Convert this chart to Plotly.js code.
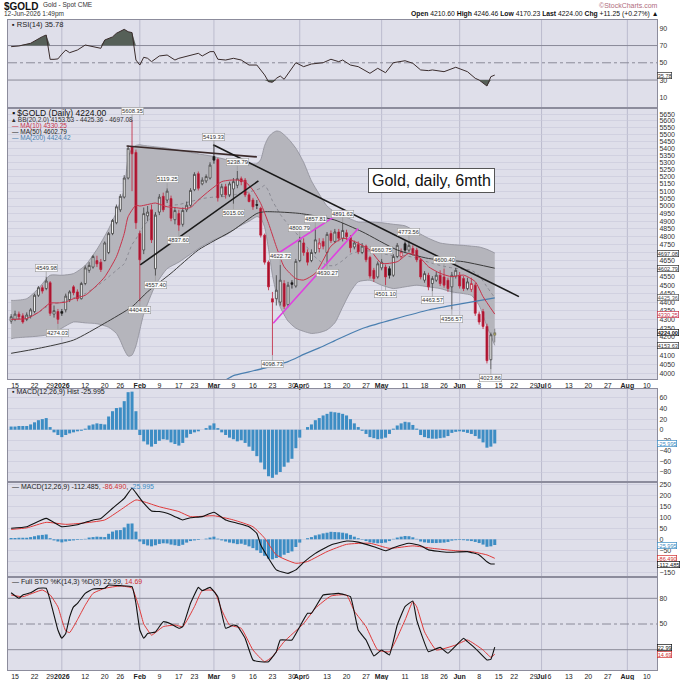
<!DOCTYPE html>
<html><head><meta charset="utf-8">
<script src="https://cdn.plot.ly/plotly-3.0.1.min.js"></script>
<style>html,body{margin:0;padding:0;background:#fff}#chart{width:680px;height:680px}</style>
</head><body><div id="chart"></div>
<script>
// ---------------- DATA ----------------
const holidays = ['2025-12-25','2026-01-01','2026-01-19','2026-02-16','2026-04-03','2026-05-25','2026-06-19','2026-07-03'];
const firstBarDate = '2025-12-12';
const lastCalendarDate = '2026-08-31';
const originDate = '2025-12-15';

const barOpen = [
4290,4300,4330,4320,4300,4320,4345,4440,4485,4480,
4515,4330,4345,4345,4355,4415,4490,4460,4420,4510,
4590,4610,4650,4640,4650,4700,4820,4890,4975,5060,
5190,5410,5370,4820,4716,4935,4975,4600,4960,5065,
5040,5050,4910,4950,4880,4975,5005,5110,5220,5150,
5170,5190,5340,5320,5075,5130,5075,5115,5140,5185,
5175,5075,5040,5010,4985,4810,4640,4420,4420,4400,
4510,4385,4515,4495,4650,4760,4700,4650,4700,4725,
4770,4700,4820,4770,4830,4790,4825,4795,4735,4750,
4700,4740,4670,4590,4550,4605,4610,4600,4560,4675,
4675,4755,4715,4725,4715,4655,4530,4560,4510,4530,
4560,4550,4530,4490,4555,4560,4540,4480,4475,4500,
4330,4345,4260,4075,4210.60];
const barHigh = [
4330,4350,4345,4335,4340,4365,4450,4495,4500,4549.98,
4525,4380,4360,4360,4450,4470,4500,4475,4520,4620,
4640,4685,4680,4660,4770,4830,4915,5010,5080,5210,
5420,5608.35,5390,4840,4990,5000,5010,4960,5080,5090,
5119.25,5070,4990,4975,4990,5030,5120,5230,5235,5195,
5215,5300,5419.33,5330,5150,5150,5165,5190,5238.79,5200,
5190,5090,5055,5040,4995,4820,4650,4460,4560,4622.72,
4530,4520,4530,4660,4800.79,4790,4720,4720,4857.81,4790,
4790,4830,4840,4850,4850,4891.62,4845,4810,4775,4770,
4760,4750,4680,4605,4645,4660.75,4625,4615,4690,4760,
4725,4770,4773.56,4745,4730,4665,4585,4575,4555,4580,
4590,4600.40,4545,4580,4605,4580,4555,4545,4545,4515,
4345,4360,4275,4225,4246.46];
const barLow = [
4275,4290,4300,4275,4290,4305,4335,4430,4450,4470,
4320,4310,4274.03,4320,4340,4400,4440,4405,4415,4500,
4575,4600,4610,4580,4645,4690,4810,4880,4960,5050,
5180,5100,4850,4404.61,4690,4900,4760,4557.40,4940,4960,
5020,4900,4880,4837.60,4865,4960,4995,5100,5105,5140,
5155,5180,5290,5030,5060,5050,5060,5015.00,5120,5140,
5060,5025,4975,4980,4795,4625,4470,4098.73,4380,4380,
4360,4370,4480,4485,4640,4680,4620,4640,4690,4700,
4720,4630.27,4760,4760,4770,4770,4780,4700,4720,4690,
4690,4640,4540,4520,4540,4590,4501.10,4540,4550,4665,
4660,4700,4700,4680,4640,4535,4515,4470,4463.57,4520,
4495,4485,4460,4356.57,4540,4480,4465,4470,4460,4320,
4270,4245,4055,4023.86,4170.23];
const barClose = [
4315,4330,4315,4285,4325,4355,4440,4485,4465,4525,
4335,4350,4300,4335,4435,4460,4455,4420,4510,4605,
4620,4675,4630,4595,4760,4820,4905,4995,5065,5190,
5400,5360,4890,4655,4950,4960,4780,4940,5060,4975,
5100,4920,4970,4875,4970,5005,5105,5215,5120,5175,
5200,5280,5315,5055,5130,5075,5150,5165,5185,5165,
5075,5030,4995,5005,4810,4640,4490,4400,4470,4530,
4375,4500,4505,4645,4775,4700,4640,4700,4780,4760,
4740,4815,4775,4830,4790,4840,4800,4730,4760,4705,
4740,4655,4555,4540,4630,4640,4550,4560,4675,4745,
4705,4715,4745,4695,4655,4550,4570,4490,4540,4560,
4510,4500,4480,4560,4590,4495,4480,4520,4510,4335,
4285,4260,4070,4212.75,4224.00];

// Bollinger bands (20,2) and moving averages (trading-day index, value)
const bbIdx = [-1,0,3,6,9,12,15,18,21,24,26,27,28,29,30,31,32,33,36,39,42,45,48,51,54,57,60,62,63,64,65,66,67,68,70,72,74,76,78,80,82,84,86,88,91,94,97,100,103,106,109,112,115,117,119,121,123];
const bbUpper = [4410,4410,4420,4480,4560,4560,4570,4620,4720,4850,4960,5030,5110,5330,5400,5420,5425,5420,5410,5400,5385,5370,5355,5340,5320,5300,5290,5290,5320,5420,5480,5510,5525,5520,5470,5400,5300,5170,5080,5000,4960,4935,4915,4895,4895,4890,4880,4870,4830,4790,4760,4750,4745,4740,4735,4720,4697.08];
const bbLower = [4190,4195,4200,4205,4215,4250,4285,4280,4275,4255,4220,4180,4130,4095,4100,4150,4240,4330,4500,4600,4640,4690,4740,4780,4810,4860,4900,4930,4920,4860,4720,4560,4450,4370,4290,4250,4232,4220,4225,4240,4280,4370,4460,4520,4530,4500,4480,4490,4500,4490,4480,4460,4450,4440,4380,4260,4153.63];
const bbMiddle = [4300,4302,4310,4340,4385,4400,4425,4450,4495,4550,4590,4610,4630,4690,4750,4785,4830,4870,4950,5000,5010,5030,5050,5060,5065,5080,5095,5110,5120,5140,5100,5035,4990,4945,4880,4825,4765,4695,4650,4620,4620,4650,4690,4705,4710,4695,4680,4680,4665,4640,4620,4605,4597,4590,4557,4490,4425.36];

const ma10Idx = [-1,3,6,9,11,13,15,18,21,23,26,28,29,31,32,34,36,39,41,43,45,47,50,53,55,57,59,61,63,65,67,69,72,74,77,79,81,84,87,91,94,98,101,104,106,109,112,115,118,120,123];
const ma10Val = [4300,4305,4340,4394,4395,4400,4420,4440,4500,4550,4674,4820,4930,5005,5000,5010,5020,4995,4990,4984,4990,5040,5107,5165,5175,5176,5165,5107,5017,4886,4737,4612,4540,4531,4572,4653,4740,4790,4770,4716,4633,4643,4695,4663,4612,4572,4551,4561,4521,4432,4330.25];
const ma50Idx = [-1,6,15,23,30,34,40,47,56,62,64,68,73,78,82,89,98,106,115,123];
const ma50Val = [4110,4137,4183,4278,4373,4461,4572,4716,4843,4951,4962,4960,4951,4930,4908,4832,4716,4663,4643,4602.79];
const ma200Idx = [50,53,56,60,64,70,74,78,82,86,90,97,106,115,123];
const ma200Val = [3930,3955,3990,4010,4030,4065,4104,4140,4180,4220,4255,4300,4354,4392,4424.42];

// RSI(14)
const rsiIdx = [-1,1,4,6,7,8,9,10,11,12,13,14,16,18,20,22,23,25,26,28,29,30,31,32,33,34,35,37,39,41,42,45,47,48,50,51,52,54,56,58,60,62,64,65,66,67,68,69,70,72,74,76,79,81,83,84,86,88,91,93,95,97,100,102,104,106,107,110,113,115,116,118,119,121,122,123];
const rsiVal = [68.7,69.5,72.6,78,80.3,82.2,54,54,54.5,60,64.8,61.7,64.8,70.6,68.7,66.8,76.4,80,84.2,88.8,86,85,53.2,47.4,56.4,55.2,51.3,57.9,59,53.2,55.2,59,61,57.9,62.9,63,54.1,53.2,55.2,53.2,47.4,47.4,35.9,28.1,27.4,32,34.7,30.9,37,50.1,45.5,48.6,50.1,54.1,51.3,53.2,47.4,45.5,37.8,43.6,38.5,50.1,52.4,49.4,41.7,40.9,41.7,39.7,44.8,41.7,39.7,32,30,23.1,33.9,35.78];

// MACD(12,26,9) histogram, one value per bar
const macdHist = [
6,6,7,7,7,10,14,18,20,22,
5,-5,-10,-14,-10,-7,-5,-3,-2,2,
8,10,12,11,10,25,35,41,42,54,
71,72,35,-10,-22,-28,-32,-27,-21,-18,
-19,-24,-27,-30,-25,-15,-8,-5,-3,0,
3,8,12,3,-5,-10,-15,-18,-22,-20,
-25,-32,-40,-50,-62,-75,-88,-91,-85,-80,
-70,-62,-55,-35,-15,0,5,10,18,22,
27,30,34,33,32,30,27,20,12,5,
-2,-8,-14,-16,-18,-17,-15,-8,2,8,
12,15,14,9,2,-10,-14,-16,-17,-17,
-16,-15,-12,-6,-4,-3,-4,-6,-8,-12,
-17,-24,-34,-32,-25.995];
const macdIdx = [-1,3,8,12,16,20,22,25,28,30,31,33,35,37,39,41,43,45,48,51,54,57,60,62,63,65,67,70,72,74,77,81,85,88,92,95,97,101,104,106,111,116,119,121,122,123];
const macdVal = [50,57,95,57,66,88,95,141,186,232,211,164,129,126,118,103,88,98,103,123,88,73,57,27,-26,-86,-139,-155,-139,-105,-64,-26,-8,-13,-34,-52,-38,-18,-29,-48,-59,-56,-71,-102,-112,-112.485];
const sigIdx = [-1,3,8,13,17,23,27,31,33,37,42,45,51,56,61,64,67,72,75,80,85,91,96,102,107,113,117,121,123];
const sigVal = [45,52,77,68,73,88,133,179,171,148,126,103,107,88,57,5,-71,-109,-101,-56,-23,-18,-41,-30,-41,-52,-56,-71,-86.49];

// Full STO %K(14,3) %D(3)
const stoKIdx = [-1,1,2,4,6,8,9,10,11,12,13,14,15,16,18,20,23,24,27,30,31,32,33,34,36,38,40,42,43,45,47,48,50,52,54,56,57,59,61,63,65,67,68,71,73,75,76,79,81,83,86,88,90,92,94,96,98,100,102,103,106,109,111,115,116,118,121,122,123];
const stoKVal = [86.5,80,84,86.5,91.7,91.7,78,60.5,43,33.3,38.9,58,70,74,85.8,90.9,91.7,95.5,94.8,93.6,74.2,43,33.3,38.9,40.7,52.7,50,45,46.9,74.2,92.8,89,92.8,81.9,45,48.8,47.7,33.3,8,6,6,17.7,31.3,31.3,46.9,62.5,62.5,83.8,85,85.8,81.9,43,31.3,12.7,19.7,13.9,48.8,70.3,76.9,54.6,17.7,22.7,15.8,33.3,29.4,21.6,8,8.8,22.99];
const stoDIdx = [-1,2,7,9,11,12,13,14,16,18,20,23,27,30,32,33,34,35,38,41,43,46,48,51,53,55,58,61,64,66,69,74,77,81,85,87,90,93,96,100,102,103,105,108,113,116,120,122,123];
const stoDVal = [83.9,81.9,89.7,84,70,55,42,40,55,72,85.8,91.7,94.4,92,66.3,50,43,37,46.9,48.8,46.9,70.3,89,89,66.3,48.8,45,19.7,6,11.9,29.4,50.6,68.4,82.7,83.8,65,46.9,19.7,17.7,54.6,76.1,70,40.8,19.7,25.5,31.3,19.7,11.2,14.69];

// hand-drawn trend lines (start idx, start price, end idx, end price)
const tlX0 = [28.6, 50.8, 32.1, 66.2, 66.2];
const tlY0 = [5416, 5425, 4623, 4675, 4278];
const tlX1 = [62, 129.2, 62.4, 84.2, 88];
const tlY1 = [5338, 4432, 5170, 4970, 4853];

// price callouts (bar idx, value, +1 above / -1 below)
const lblIdx = [8,11,30,32,36,39,42,51,56,57,66,68,73,77,80,84,94,95,101,107,110,112,122];
const lblVal = [4549.98,4274.03,5608.35,4404.61,4557.40,5119.25,4837.60,5419.33,5015.00,5238.79,4098.73,4622.72,4800.79,4857.81,4630.27,4891.62,4660.75,4501.10,4773.56,4463.57,4600.40,4356.57,4023.86];
const lblSide = [1,-1,1,-1,-1,1,-1,1,-1,1,-1,1,1,1,-1,1,1,-1,1,-1,1,-1,-1];

// axis tick labels
const tickDates = ['2025-12-15','2025-12-22','2025-12-29','2026-01-02','2026-01-12','2026-01-20','2026-01-26','2026-02-02','2026-02-09','2026-02-17','2026-02-23','2026-03-02','2026-03-09','2026-03-16','2026-03-23','2026-03-30','2026-04-01','2026-04-06','2026-04-13','2026-04-20','2026-04-27','2026-05-01','2026-05-11','2026-05-18','2026-05-26','2026-06-01','2026-06-08','2026-06-15','2026-06-22','2026-06-29','2026-07-01','2026-07-06','2026-07-13','2026-07-20','2026-07-27','2026-08-03','2026-08-10'];
const tickText = ['15','22','29','<b>2026</b>','12','20','26','<b>Feb</b>','9','17','23','<b>Mar</b>','9','16','23','30','<b>Apr</b>','6','13','20','27','<b>May</b>','11','18','26','<b>Jun</b>','8','15','22','29','<b>Jul</b>','6','13','20','27','<b>Aug</b>','10'];
const monthDates = ['2026-01-02','2026-02-02','2026-03-02','2026-04-01','2026-05-01','2026-06-01','2026-07-01','2026-08-03'];
const rsiTicks = [10,30,50,70,90];
const histTicks = [-80,-60,-40,-20,0,20,40,60];
const macdTicks = [-150,-100,-50,0,50,100,150,200,250];
const stoTicks = [20,50,80];
const priceTickMin = 4000, priceTickMax = 5650, priceTickStep = 50;

// ---------------- BUILD ----------------
function buildTradingDays(start, end) {
  const out = [];
  const d = new Date(start + 'T00:00:00Z');
  const e = new Date(end + 'T00:00:00Z');
  while (d <= e) {
    const s = d.toISOString().slice(0, 10);
    const wd = d.getUTCDay();
    if (wd !== 0 && wd !== 6 && holidays.indexOf(s) < 0) out.push(s);
    d.setUTCDate(d.getUTCDate() + 1);
  }
  return out;
}
const days = buildTradingDays(firstBarDate, lastCalendarDate);
const dayIndex = s => days.indexOf(s) - days.indexOf(originDate);
const barX = barOpen.map((_, k) => dayIndex(days[k]));
const tickVals = tickDates.map(dayIndex);
const monthVals = monthDates.map(dayIndex);
const priceTicks = [];
for (let v = priceTickMin; v <= priceTickMax; v += priceTickStep) priceTicks.push(v);

const FONT = 'Liberation Sans, Arial, sans-serif';
const ML = 8, MR = 23, MT = 20, MB = 10, W = 680, H = 680;
const PW = W - ML - MR, PH = H - MT - MB;
const px = x => (x - ML) / PW;
const py = y => 1 - (y - MT) / PH;
const XR = [-1.8, 164.6];

const traces = [];
const noHover = {hoverinfo: 'skip', showlegend: false};
function line(x, y, xa, ya, style, extra) {
  return Object.assign({type:'scatter', mode:'lines', x:x, y:y, line:style, xaxis:xa, yaxis:ya}, noHover, extra || {});
}

// RSI
const rsiHi = rsiVal.map(v => Math.max(v, 70));
const rsiLo = rsiVal.map(v => Math.min(v, 30));
traces.push(line(rsiIdx, rsiIdx.map(() => 70), 'x', 'y', {width:0}));
traces.push(line(rsiIdx, rsiHi, 'x', 'y', {width:0}, {fill:'tonexty', fillcolor:'#566058'}));
traces.push(line(rsiIdx, rsiIdx.map(() => 30), 'x', 'y', {width:0}));
traces.push(line(rsiIdx, rsiLo, 'x', 'y', {width:0}, {fill:'tonexty', fillcolor:'#566058'}));
traces.push(line(rsiIdx, rsiVal, 'x', 'y', {color:'#3a2c2c', width:1}));

// Price panel, base layer (y2): Bollinger band
const sm = {shape:'spline', smoothing:0.6};
traces.push(line(bbIdx, bbLower, 'x2', 'y2', Object.assign({color:'#8e8e98', width:0.8}, sm)));
traces.push(line(bbIdx, bbUpper, 'x2', 'y2', Object.assign({color:'#8e8e98', width:0.8}, sm), {fill:'tonexty', fillcolor:'#b5b5bc'}));
traces.push(line(bbIdx, bbMiddle, 'x2', 'y2', Object.assign({color:'#7c7c86', width:0.8, dash:'dot'}, sm)));

// middle layer (y6 overlays y2): candles, coloured by close vs previous close
const nBars = barOpen.length;
const upKeys = [], dnKeys = [];
for (let k = 0; k < nBars - 1; k++) {
  const prev = k > 0 ? barClose[k - 1] : barOpen[k];
  (barClose[k] >= prev ? upKeys : dnKeys).push(k);
}
function candle(keys, incLine, incFill, decLine, decFill) {
  return Object.assign({type:'candlestick', x:keys.map(k => barX[k]), open:keys.map(k => barOpen[k]), high:keys.map(k => barHigh[k]), low:keys.map(k => barLow[k]), close:keys.map(k => barClose[k]),
    increasing:{line:{color:incLine, width:0.8}, fillcolor:incFill}, decreasing:{line:{color:decLine, width:0.8}, fillcolor:decFill}, whiskerwidth:0, xaxis:'x2', yaxis:'y6'}, noHover);
}
traces.push(candle(upKeys, '#3c3c3c', '#ffffff', '#1a1a1a', '#1a1a1a'));
traces.push(candle(dnKeys, '#c0203a', '#ffffff', '#c0203a', '#a3102c'));
traces.push(candle([nBars - 1], '#707070', '#f2e030', '#707070', '#f2e030'));

// top layer (y7 overlays y2): moving averages and trend lines
traces.push(line(ma200Idx, ma200Val, 'x2', 'y7', {color:'#4a7fb0', width:1.2, shape:'spline', smoothing:0.5}));
traces.push(line(ma50Idx, ma50Val, 'x2', 'y7', Object.assign({color:'#3a3a3a', width:1}, sm)));
traces.push(line(ma10Idx, ma10Val, 'x2', 'y7', Object.assign({color:'#c8324a', width:1}, sm)));
const tlColor = ['#3b2a2a', '#1a1a1a', '#1a1a1a', '#e040e0', '#e040e0'];
for (let t = 0; t < tlX0.length; t++) {
  traces.push(line([tlX0[t], tlX1[t]], [tlY0[t], tlY1[t]], 'x2', 'y7', {color:tlColor[t], width:1.6}));
}

// MACD histogram panel
traces.push(Object.assign({type:'bar', x:barX, y:macdHist, width:0.78, marker:{color:'#3d8dc4', line:{width:0}}, xaxis:'x3', yaxis:'y3'}, noHover));
// MACD panel
traces.push(Object.assign({type:'bar', x:barX, y:macdHist, width:0.78, marker:{color:'#3d8dc4', line:{width:0}}, xaxis:'x4', yaxis:'y4'}, noHover));
traces.push(line(sigIdx, sigVal, 'x4', 'y4', {color:'#e03a3a', width:1, shape:'spline', smoothing:0.5}));
traces.push(line(macdIdx, macdVal, 'x4', 'y4', {color:'#111', width:1.1, shape:'spline', smoothing:0.4}));
// STO panel
traces.push(line(stoDIdx, stoDVal, 'x5', 'y5', {color:'#e03a3a', width:1, shape:'spline', smoothing:0.4}));
traces.push(line(stoKIdx, stoKVal, 'x5', 'y5', {color:'#111', width:1.1, shape:'spline', smoothing:0.3}));

// ---------------- LAYOUT ----------------
const axisLine = '#8c8c9c';
function xAxis(anchor, labels) {
  return {anchor:anchor, range:XR, fixedrange:true, showgrid:false, zeroline:false, showline:true, mirror:true, linecolor:axisLine, linewidth:1,
    ticks:'', tickmode:'array', tickvals:tickVals, ticktext:tickText, showticklabels:labels, tickangle:0,
    tickfont:{family:FONT, size:7, color:'#222'}, rangeslider:{visible:false}};
}
function yAxis(anchor, domain, range, ticks, grid, extra) {
  return Object.assign({anchor:anchor, domain:domain, range:range, side:'right', fixedrange:true, zeroline:false, showline:true, mirror:true,
    linecolor:axisLine, linewidth:1, ticks:'', tickmode:'array', tickvals:ticks, showgrid:grid, gridcolor:'#c8c8d8', gridwidth:0.6,
    tickfont:{family:FONT, size:7, color:'#333'}}, extra || {});
}
const priceLog = y => 3.7520 - (y - 114.3) / 1730;
const priceRange = [priceLog(379), priceLog(108)];
function overlayAxis() {
  return {overlaying:'y2', anchor:'x2', type:'log', range:priceRange, fixedrange:true, showgrid:false, zeroline:false, showline:false, showticklabels:false, ticks:''};
}

const layout = {
  width:W, height:H, margin:{l:ML, r:MR, t:MT, b:MB}, paper_bgcolor:'#ffffff', plot_bgcolor:'#dfdfea',
  showlegend:false, font:{family:FONT, color:'#222'}, hovermode:false,
  xaxis: xAxis('y', false), xaxis2: xAxis('y2', true), xaxis3: xAxis('y3', false), xaxis4: xAxis('y4', false), xaxis5: xAxis('y5', true),
  yaxis: yAxis('x', [py(108), py(20)], [-2.4, 99.6], rsiTicks, false),
  yaxis2: yAxis('x2', [py(379), py(108)], priceRange, priceTicks, true, {type:'log', ticktext:priceTicks.map(String)}),
  yaxis3: yAxis('x3', [py(482), py(389)], [-98.9, 77.0], histTicks, true),
  yaxis4: yAxis('x4', [py(577), py(482)], [-171.4, 260.5], macdTicks, true),
  yaxis5: yAxis('x5', [0, py(577)], [-3.7, 104.9], stoTicks, false),
  yaxis6: overlayAxis(),
  yaxis7: overlayAxis(),
  shapes: [], annotations: []
};

// month grid lines in every panel
const panelRefs = [['x','y'],['x2','y2'],['x3','y3'],['x4','y4'],['x5','y5']];
panelRefs.forEach(([xr, yr]) => monthVals.forEach(m => layout.shapes.push({type:'line', layer:'below', xref:xr, yref:yr + ' domain', x0:m, x1:m, y0:0, y1:1, line:{color:'#b3b3c6', width:0.8}})));
// reference levels
[[70,'solid'],[30,'solid'],[50,'dashdot']].forEach(([v, d]) => layout.shapes.push({type:'line', layer:'below', xref:'x domain', yref:'y', x0:0, x1:1, y0:v, y1:v, line:{color:'#8a8a98', width:1, dash:d}}));
[[80,'solid'],[20,'solid'],[50,'dashdot']].forEach(([v, d]) => layout.shapes.push({type:'line', layer:'below', xref:'x5 domain', yref:'y5', x0:0, x1:1, y0:v, y1:v, line:{color:'#8a8a98', width:1, dash:d}}));

const A = layout.annotations;
function txt(x, y, text, size, color, anchor, extra) {
  A.push(Object.assign({xref:'paper', yref:'paper', x:px(x), y:py(y), text:text, showarrow:false, xanchor:anchor || 'left', yanchor:'middle',
    font:{family:FONT, size:size, color:color || '#222'}}, extra || {}));
}
const last = nBars - 1;
const chg = barClose[last] - barClose[last - 1];
// header
txt(2, 6, '<b>$GOLD</b>', 10, '#111');
txt(41, 5.5, 'Gold - Spot CME', 6.5, '#333');
txt(2, 14, '12-Jun-2026 1:49pm', 6.5, '#333');
txt(660, 5, '\u00a9StockCharts.com', 7, '#b06c7c', 'right');
txt(660, 14, '<b>Open</b> ' + barOpen[last].toFixed(2) + ' <b>High</b> ' + barHigh[last].toFixed(2) + ' <b>Low</b> ' + barLow[last].toFixed(2) +
  ' <b>Last</b> ' + barClose[last].toFixed(2) + ' <b>Chg</b> +' + chg.toFixed(2) + ' (+' + (chg / barClose[last - 1] * 100).toFixed(2) + '%) \u25b2', 6.8, '#111', 'right');
// panel legends
txt(10, 25, '\u25aa RSI(14) ' + rsiVal[rsiVal.length - 1].toFixed(2), 7.5, '#222');
txt(10, 113, '\u25aa $GOLD (Daily) ' + barClose[last].toFixed(2), 8.5, '#111');
txt(10, 120, '\u25b4 BB(20,2.0) ' + bbLower[bbLower.length - 1].toFixed(2) + ' - ' + bbMiddle[bbMiddle.length - 1].toFixed(2) + ' - ' + bbUpper[bbUpper.length - 1].toFixed(2), 6.5, '#333');
txt(10, 126, '\u2014 MA(10) ' + ma10Val[ma10Val.length - 1].toFixed(2), 6.5, '#c8324a');
txt(10, 132, '\u2014 MA(50) ' + ma50Val[ma50Val.length - 1].toFixed(2), 6.5, '#222');
txt(10, 138, '\u2014 MA(200) ' + ma200Val[ma200Val.length - 1].toFixed(2), 6.5, '#4a7fb0');
txt(10, 392, '\u25aa MACD(12,26,9) Hist ' + macdHist[last].toFixed(3), 7, '#222');
txt(10, 487, '\u2014 MACD(12,26,9) ' + macdVal[macdVal.length - 1].toFixed(3) + ', <span style="color:#d03030">' + sigVal[sigVal.length - 1].toFixed(3) +
  '</span>, <span style="color:#3d8dc4">' + macdHist[last].toFixed(3) + '</span>', 7, '#222');
txt(10, 582, '\u2014 Full STO %K(14,3) %D(3) ' + stoKVal[stoKVal.length - 1].toFixed(2) + ', <span style="color:#d03030">' + stoDVal[stoDVal.length - 1].toFixed(2) + '</span>', 7, '#222');
// title box
txt(431, 181, 'Gold, daily, 6mth', 16, '#111', 'center', {bgcolor:'#ffffff', bordercolor:'#555', borderwidth:1, borderpad:3});

// price callouts
lblIdx.forEach((i, k) => {
  A.push({xref:'x2', yref:'y2', x:i, y:Math.log10(lblVal[k]), text:lblVal[k].toFixed(2), showarrow:true, arrowhead:0, arrowwidth:0.7, arrowcolor:'#999',
    ax:0, ay:lblSide[k] > 0 ? -9 : 9, standoff:0, font:{family:FONT, size:5.8, color:'#333'}, bgcolor:'rgba(255,255,255,0.9)', bordercolor:'#9a9a9a', borderwidth:0.6, borderpad:0.5});
});

// right-edge value boxes
function box(yref, yv, value, color, bold) {
  A.push({xref:'paper', yref:yref, x:1, y:yv, xanchor:'left', yanchor:'middle', xshift:0, showarrow:false,
    text:bold ? '<b>' + value + '</b>' : value, font:{family:FONT, size:5.6, color:color}, bgcolor:'#ffffff', bordercolor:color, borderwidth:0.7, borderpad:0});
}
box('y', rsiVal[rsiVal.length - 1], rsiVal[rsiVal.length - 1].toFixed(2), '#333');
box('y2', Math.log10(bbUpper[bbUpper.length - 1]), bbUpper[bbUpper.length - 1].toFixed(2), '#333');
box('y2', Math.log10(ma50Val[ma50Val.length - 1]), ma50Val[ma50Val.length - 1].toFixed(2), '#333');
box('y2', Math.log10(bbMiddle[bbMiddle.length - 1]), bbMiddle[bbMiddle.length - 1].toFixed(2), '#555');
box('y2', Math.log10(ma10Val[ma10Val.length - 1]), ma10Val[ma10Val.length - 1].toFixed(2), '#c8324a');
box('y2', Math.log10(barClose[last]), barClose[last].toFixed(2), '#111', true);
box('y2', Math.log10(bbLower[bbLower.length - 1]), bbLower[bbLower.length - 1].toFixed(2), '#333');
box('y3', macdHist[last], macdHist[last].toFixed(3), '#3d8dc4');
box('y4', macdHist[last], macdHist[last].toFixed(3), '#3d8dc4');
box('y4', sigVal[sigVal.length - 1], sigVal[sigVal.length - 1].toFixed(3), '#d03030');
box('y4', macdVal[macdVal.length - 1], macdVal[macdVal.length - 1].toFixed(3), '#111');
box('y5', stoKVal[stoKVal.length - 1], stoKVal[stoKVal.length - 1].toFixed(2), '#111');
box('y5', stoDVal[stoDVal.length - 1], stoDVal[stoDVal.length - 1].toFixed(2), '#d03030');

Plotly.newPlot('chart', traces, layout, {displayModeBar:false, staticPlot:true});
</script></body></html>
